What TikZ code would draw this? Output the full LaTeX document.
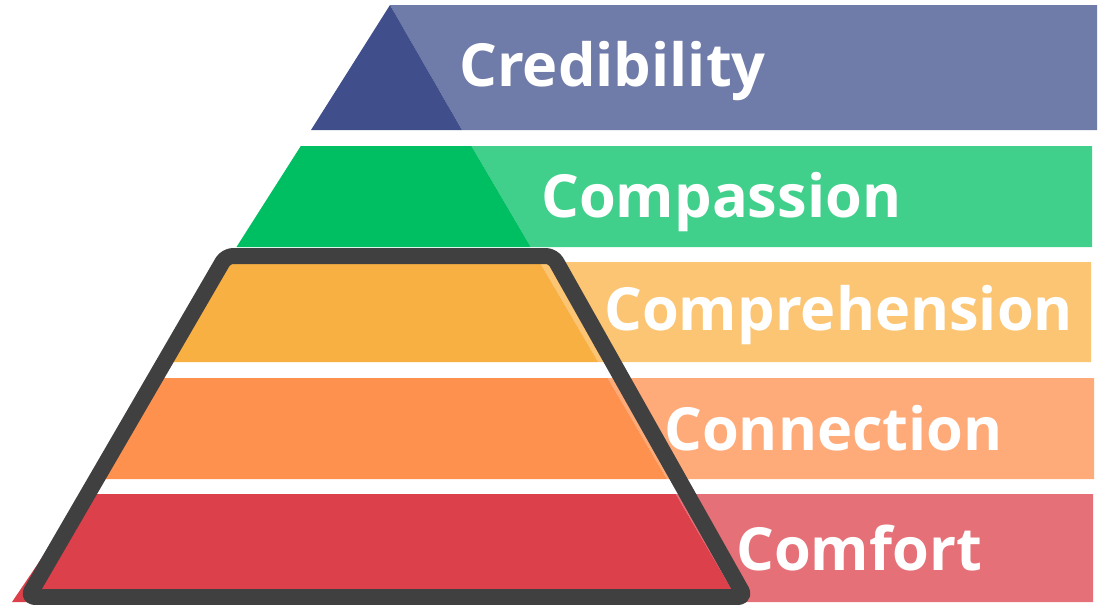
\documentclass[tikz,border=0pt]{standalone}
\usepackage{fontspec}
\setmainfont{Open Sans}
\definecolor{credD}{HTML}{404F8B}
\definecolor{credL}{HTML}{6F7BA8}
\definecolor{compD}{HTML}{00BF63}
\definecolor{compL}{HTML}{41D08B}
\definecolor{prehD}{HTML}{F9B043}
\definecolor{prehL}{HTML}{FBC573}
\definecolor{connD}{HTML}{FE914D}
\definecolor{connL}{HTML}{FFAA79}
\definecolor{comfD}{HTML}{DC414B}
\definecolor{comfL}{HTML}{E57077}
\definecolor{outline}{HTML}{404040}
\tikzset{
  lvltext/.style={anchor=base west, text=white, inner sep=0pt, font=\bfseries\fontsize{59.5}{62}\selectfont},
  frame/.style={draw=outline, line width=16pt, rounded corners=7pt, line join=round}
}
\begin{document}
\begin{tikzpicture}[x=1pt,y=-1pt]
\useasboundingbox (0,0) rectangle (1103,605);
% light bands
\fill[credL] (390,5) -- (1097,5) -- (1097,130) -- (462,130) -- cycle;
\fill[compL] (471.4,146) -- (1092,146) -- (1092,247) -- (530.7,247) -- cycle;
\fill[prehL] (539.5,262) -- (1091,262) -- (1091,362) -- (598.2,362) -- cycle;
\fill[connL] (607.6,378) -- (1094,378) -- (1094,479) -- (666.9,479) -- cycle;
\fill[comfL] (675.7,494) -- (1093,494) -- (1093,602) -- (739.1,602) -- cycle;
% dark pyramid parts
\fill[credD] (390,5) -- (462,130) -- (311,130) -- cycle;
\fill[compD] (300.8,146) -- (471.4,146) -- (530.7,247) -- (236.5,247) -- cycle;
\fill[prehD] (226.9,262) -- (539.5,262) -- (598.2,362) -- (165,362) -- cycle;
\fill[connD] (156,378) -- (607.6,378) -- (666.9,479) -- (95,479) -- cycle;
\fill[comfD] (85,494) -- (675.7,494) -- (739.1,602) -- (12,602) -- cycle;
% outline
\draw[frame] (226,256) -- (553,256) -- (745,597) -- (28,597) -- cycle;
% labels
\node[lvltext] (cred) at (459,86) {Credibility};
\node[lvltext] (comp) at (541,217) {Compassion};
\node[lvltext] (preh) at (604,330) {Comprehension};
\node[lvltext] (conn) at (664,450) {Connection};
\node[lvltext] (comf) at (736,570) {Comfort};
\end{tikzpicture}
\end{document}
